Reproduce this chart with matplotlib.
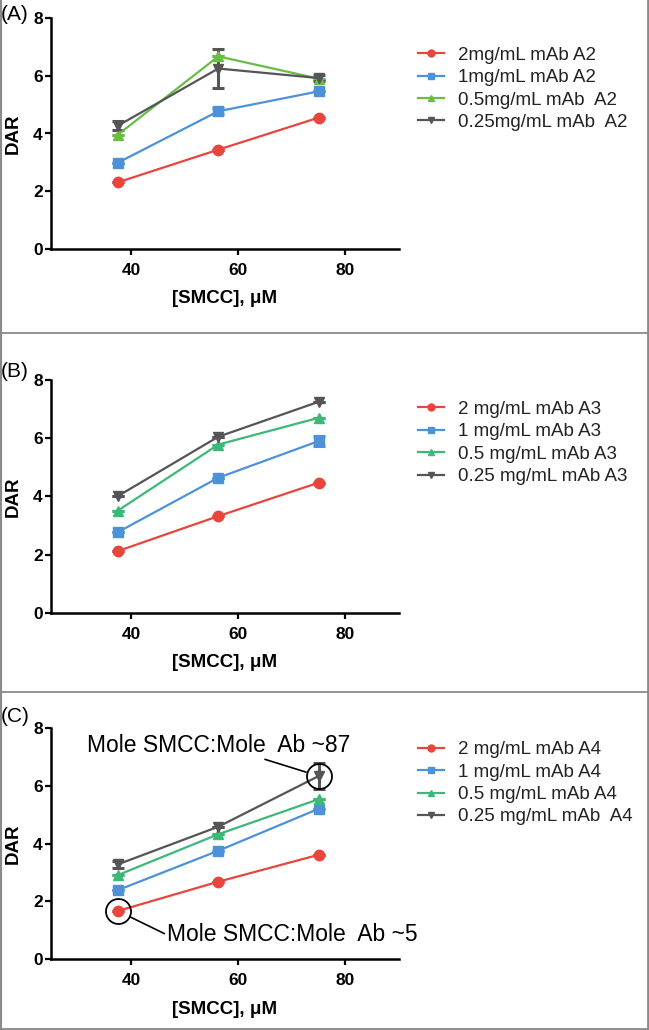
import matplotlib
matplotlib.use("Agg")
import matplotlib.pyplot as plt
from matplotlib.lines import Line2D

plt.rcParams['font.family'] = ['Liberation Sans', 'DejaVu Sans']

# ---------------- data ----------------
smcc = [37.5, 56.25, 75.0]

# Panel A (mAb A2)
a_labels = ["2mg/mL mAb A2", "1mg/mL mAb A2", "0.5mg/mL mAb  A2", "0.25mg/mL mAb  A2"]
a_2 = [2.31, 3.44, 4.55]
a_1 = [2.99, 4.77, 5.46]
a_05 = [3.96, 6.67, 5.90]
a_025 = [4.27, 6.25, 5.92]
a_2_err = [0, 0, 0]
a_1_err = [0, 0.10, 0]
a_05_err = [0, 0, 0]
a_025_err = [0.15, 0.67, 0.10]

# Panel B (mAb A3)
b_labels = ["2 mg/mL mAb A3", "1 mg/mL mAb A3", "0.5 mg/mL mAb A3", "0.25 mg/mL mAb A3"]
b_2 = [2.12, 3.32, 4.47]
b_1 = [2.77, 4.64, 5.90]
b_05 = [3.51, 5.78, 6.70]
b_025 = [4.01, 6.05, 7.25]
b_2_err = [0, 0, 0]
b_1_err = [0, 0, 0.17]
b_05_err = [0, 0, 0]
b_025_err = [0, 0, 0]

# Panel C (mAb A4)
c_labels = ["2 mg/mL mAb A4", "1 mg/mL mAb A4", "0.5 mg/mL mAb A4", "0.25 mg/mL mAb  A4"]
c_2 = [1.67, 2.68, 3.61]
c_1 = [2.39, 3.75, 5.20]
c_05 = [2.91, 4.32, 5.53]
c_025 = [3.28, 4.58, 6.33]
c_2_err = [0, 0, 0]
c_1_err = [0, 0, 0]
c_05_err = [0, 0, 0]
c_025_err = [0.12, 0, 0.45]

annot_hi = "Mole SMCC:Mole  Ab ~87"
annot_lo = "Mole SMCC:Mole  Ab ~5"

panel_letters = ["(A)", "(B)", "(C)"]
xticks = [40, 60, 80]
yticks = [0, 2, 4, 6, 8]

# ---------------- style ----------------
RED = "#E8453D"
BLUE = "#4D92D8"
GREEN_A = "#69BD45"
GREEN_BC = "#3DB878"
GRAY = "#555558"
markers = ["o", "s", "^", "v"]

W, H = 649, 1030
fig = plt.figure(figsize=(W / 100, H / 100), dpi=100)


def fx(px):
    return px / W


def fy(py):
    return 1 - py / H


panels = [
    dict(top=18, bot=249, labels=a_labels,
         series=[a_2, a_1, a_05, a_025], errs=[a_2_err, a_1_err, a_05_err, a_025_err],
         colors=[RED, BLUE, GREEN_A, GRAY], leg_y=(51 + 126.7) / 2, let_y=14),
    dict(top=380, bot=612.7, labels=b_labels,
         series=[b_2, b_1, b_05, b_025], errs=[b_2_err, b_1_err, b_05_err, b_025_err],
         colors=[RED, BLUE, GREEN_BC, GRAY], leg_y=(407 + 479) / 2, let_y=372),
    dict(top=727.7, bot=959.3, labels=c_labels,
         series=[c_2, c_1, c_05, c_025], errs=[c_2_err, c_1_err, c_05_err, c_025_err],
         colors=[RED, BLUE, GREEN_BC, GRAY], leg_y=(745 + 821.7) / 2, let_y=717),
]

axes = []
for i, p in enumerate(panels):
    left, right = 51, 399
    ax = fig.add_axes([fx(left), fy(p["bot"]), (right - left) / W, (p["bot"] - p["top"]) / H])
    axes.append(ax)
    handles = []
    for s, e, c, m, lab in zip(p["series"], p["errs"], p["colors"], markers, p["labels"]):
        ax.errorbar(smcc, s, yerr=e, color=c, marker=m, ms=7.5, lw=1.6,
                    elinewidth=2.2, capsize=4, capthick=2.2, clip_on=False, zorder=3)
        handles.append(Line2D([], [], color=c, marker=m, ms=5, lw=1.6, label=lab))
    ax.set_xlim(25, 90)
    ax.set_ylim(0, 8)
    ax.set_xticks(xticks)
    ax.set_yticks(yticks)
    for side in ["top", "right"]:
        ax.spines[side].set_visible(False)
    for side in ["left", "bottom"]:
        ax.spines[side].set_linewidth(1.8)
    ax.tick_params(axis="both", direction="out", length=4.5, width=1.6, labelsize=12.5)
    ax.tick_params(axis="y", pad=1.5)
    ax.tick_params(axis="x", pad=5.5)
    for t in ax.get_xticklabels() + ax.get_yticklabels():
        t.set_fontweight("bold")
    ax.set_ylabel("DAR", fontsize=13.5, fontweight="bold", labelpad=8)
    ax.set_xlabel("[SMCC], \u03bcM", fontsize=13.5, fontweight="bold", labelpad=9)
    leg = fig.legend(handles=handles, loc="center left",
                     bbox_to_anchor=(fx(418), fy(p["leg_y"])),
                     frameon=False, fontsize=13.5, handlelength=1.4, handletextpad=0.72,
                     labelspacing=0.28, borderpad=0, borderaxespad=0)
    for t in leg.get_texts():
        t.set_color("#222222")
    fig.text(fx(1), fy(p["let_y"]), panel_letters[i], fontsize=15, va="center", ha="left")

# annotations on panel C
axC = axes[2]
axC.plot([smcc[2]], [c_025[2]], "o", ms=18, mfc="none", mec="black", mew=1.3, clip_on=False, zorder=5)
axC.plot([smcc[0]], [c_2[0]], "o", ms=18, mfc="none", mec="black", mew=1.3, clip_on=False, zorder=5)
axC.annotate(annot_hi, xy=(smcc[2], c_025[2]), xytext=(31.8, 7.4), textcoords="data",
             ha="left", va="center", fontsize=16.5, annotation_clip=False,
             arrowprops=dict(arrowstyle="-", color="black", lw=1.2, shrinkA=0, shrinkB=9.5))
axC.annotate(annot_lo, xy=(smcc[0], c_2[0]), xytext=(46.7, 0.84), textcoords="data",
             ha="left", va="center", fontsize=16.5, annotation_clip=False,
             arrowprops=dict(arrowstyle="-", color="black", lw=1.2, shrinkA=0, shrinkB=9.5,
                             relpos=(0, 0.5)))

# panel separators and outer border
border = "#8a8a8a"
for yy in [333, 692]:
    fig.add_artist(Line2D([0, 1], [fy(yy), fy(yy)], color=border, lw=1.3, transform=fig.transFigure))
fig.add_artist(Line2D([fx(1), fx(1)], [0, 1], color=border, lw=1.5, transform=fig.transFigure))
fig.add_artist(Line2D([fx(647.5), fx(647.5)], [0, 1], color=border, lw=2, transform=fig.transFigure))
fig.add_artist(Line2D([0, 1], [fy(1028.5), fy(1028.5)], color=border, lw=2, transform=fig.transFigure))

fig.savefig("out.png", dpi=100)
